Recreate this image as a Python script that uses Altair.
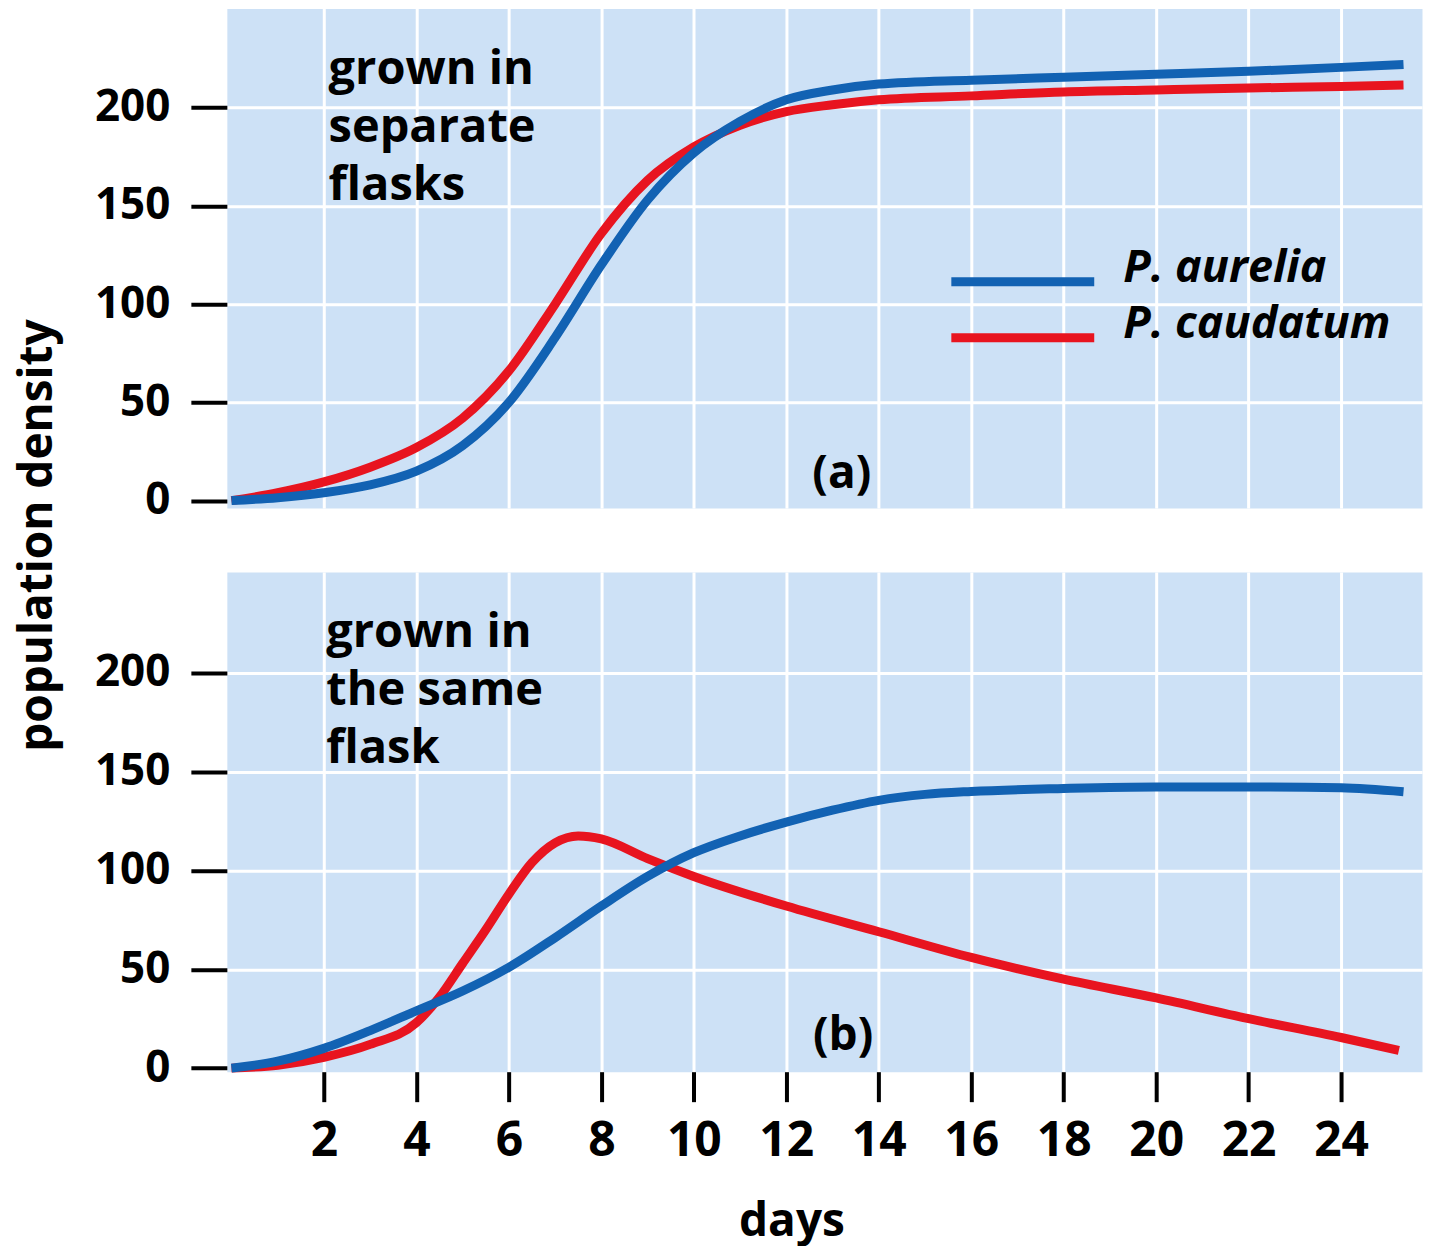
import altair as alt
import pandas as pd

# ---------------- data ----------------
SPECIES = ["P. aurelia", "P. caudatum"]
LINE_COLORS = ["#1262b3", "#e8141f"]

# (a) grown in separate flasks
sep_days = [0, 1, 2, 3, 4, 5, 6, 7, 8, 9, 10, 11, 12, 13, 14, 16, 18, 20, 22, 24, 25.35]
sep_aurelia = [0, 1.5, 4, 8, 15, 28, 50, 83, 120, 153, 177, 193, 204, 209, 212, 214, 215.5, 217, 218.5, 220.5, 222]
sep_caudatum = [0, 4, 9.5, 17, 27, 42, 66, 100, 136, 163, 180, 191, 198, 201.5, 204, 206, 208, 209, 210, 210.8, 211.5]

# (b) grown in the same flask
same_days_aurelia = [0, 1, 2, 3, 4, 5, 6, 7, 8, 9, 10, 11, 12, 13, 14, 15, 16, 18, 20, 22, 24, 25.35]
same_aurelia = [0, 3.5, 10, 19, 29, 39, 51, 66, 82, 97, 109, 117.5, 124.5, 130.5, 135.5, 138.5, 140, 141.5, 142.3, 142.3, 141.8, 139.8]
same_days_caudatum = [0, 1, 2, 3, 4, 4.5, 5, 5.5, 6, 6.5, 7, 7.5, 8, 9, 10, 12, 14, 16, 18, 20, 22, 24, 25.25]
same_caudatum = [0, 1.5, 5.5, 12, 23, 36, 53, 70, 88, 104, 114, 117.5, 116, 106, 97, 82, 69, 56, 45, 35.5, 25, 15.5, 9]

X_TICKS = [2, 4, 6, 8, 10, 12, 14, 16, 18, 20, 22, 24]
Y_TICKS = [0, 50, 100, 150, 200]

NOTE_A = ["grown in", "separate", "flasks"]
NOTE_B = ["grown in", "the same", "flask"]
TAG_A = "(a)"
TAG_B = "(b)"


def series(days, values, name):
    return pd.DataFrame({"day": days, "density": values, "species": name})


sep_df = pd.concat([series(sep_days, sep_aurelia, SPECIES[0]),
                    series(sep_days, sep_caudatum, SPECIES[1])], ignore_index=True)
same_df = pd.concat([series(same_days_aurelia, same_aurelia, SPECIES[0]),
                     series(same_days_caudatum, same_caudatum, SPECIES[1])], ignore_index=True)

# ---------------- styling ----------------
FONT = "Open Sans"
BG = "#cde1f6"
W, H = 1196, 500
X_DOMAIN = [-0.1, 25.75]

grid_no_zero = {"condition": {"test": "datum.value === 0", "value": 0}, "value": 1}


def y_axis(with_title):
    kw = dict(values=Y_TICKS, grid=True, gridColor="white", gridWidth=3,
              gridOpacity=grid_no_zero, domain=False,
              tickColor="black", tickWidth=4, tickSize=36,
              labelFont=FONT, labelFontWeight="bold", labelFontSize=44,
              labelColor="black", labelPadding=21)
    if with_title:
        kw.update(title="population density", titleFont=FONT, titleFontWeight="bold",
                  titleFontSize=46, titleColor="black", titleX=-189, titleY=527,
                  titleAlign="center", titleBaseline="middle")
    else:
        kw.update(title=None)
    return alt.Axis(**kw)


def x_axis(with_labels):
    if with_labels:
        return alt.Axis(values=X_TICKS, grid=True, gridColor="white", gridWidth=3,
                        domain=False, tickColor="black", tickWidth=4, tickSize=30,
                        labelFont=FONT, labelFontWeight="bold", labelFontSize=48,
                        labelColor="black", labelPadding=16,
                        title="days", titleFont=FONT, titleFontWeight="bold",
                        titleFontSize=46, titleColor="black", titleX=565, titleY=164,
                        titleAlign="center", titleBaseline="alphabetic")
    return alt.Axis(values=X_TICKS, grid=True, gridColor="white", gridWidth=3,
                    domain=False, ticks=False, labels=False, title=None)


legend = alt.Legend(orient="none", legendX=774, legendY=251, title=None,
                    symbolType="M-5,0H5", symbolSize=818, symbolStrokeWidth=9,
                    labelFont=FONT, labelFontSize=45, labelFontStyle="italic",
                    labelFontWeight="bold", labelColor="black", labelOffset=78,
                    labelBaseline="alphabetic", labelLimit=0, rowPadding=1, padding=0)


def panel(df, y_domain, bottom, note, note_xy, tag, tag_xy):
    color = alt.Color("species:N", scale=alt.Scale(domain=SPECIES, range=LINE_COLORS),
                      legend=None if bottom else legend)
    x = alt.X("day:Q", scale=alt.Scale(domain=X_DOMAIN, nice=False, zero=False),
              axis=x_axis(bottom))
    y = alt.Y("density:Q", scale=alt.Scale(domain=y_domain, nice=False, zero=False),
              axis=y_axis(not bottom))
    base = alt.Chart(df)
    red = base.transform_filter(alt.datum.species == SPECIES[1]).mark_line(
        strokeWidth=9, interpolate="monotone").encode(x=x, y=y, color=color)
    blue = base.transform_filter(alt.datum.species == SPECIES[0]).mark_line(
        strokeWidth=9, interpolate="monotone").encode(x=x, y=y, color=color)
    one = pd.DataFrame({"k": [0]})
    note_mark = alt.Chart(one).mark_text(
        text=note, font=FONT, fontWeight="bold", fontSize=47, lineHeight=58,
        align="left", baseline="alphabetic", color="black"
    ).encode(x=alt.datum(note_xy[0]), y=alt.datum(note_xy[1]))
    tag_mark = alt.Chart(one).mark_text(
        text=tag, font=FONT, fontWeight="bold", fontSize=46,
        align="center", baseline="middle", color="black"
    ).encode(x=alt.datum(tag_xy[0]), y=alt.datum(tag_xy[1]))
    return alt.layer(red, blue, note_mark, tag_mark).properties(width=W, height=H)


top = panel(sep_df, [-3.8, 250.5], False, NOTE_A, (2.1, 212), TAG_A, (13.2, 13.5))
bottom = panel(same_df, [-1.8, 251], True, NOTE_B, (2.05, 213), TAG_B, (13.23, 16.4))

chart = alt.vconcat(top, bottom, spacing=64, bounds="flush").resolve_scale(
    color="independent", x="independent", y="independent"
).properties(
    padding={"left": 6, "top": -1, "right": 0, "bottom": 0}
).configure_view(fill=BG, stroke="transparent")

chart.save("out.html", embed_options={"renderer": "svg", "actions": False})
